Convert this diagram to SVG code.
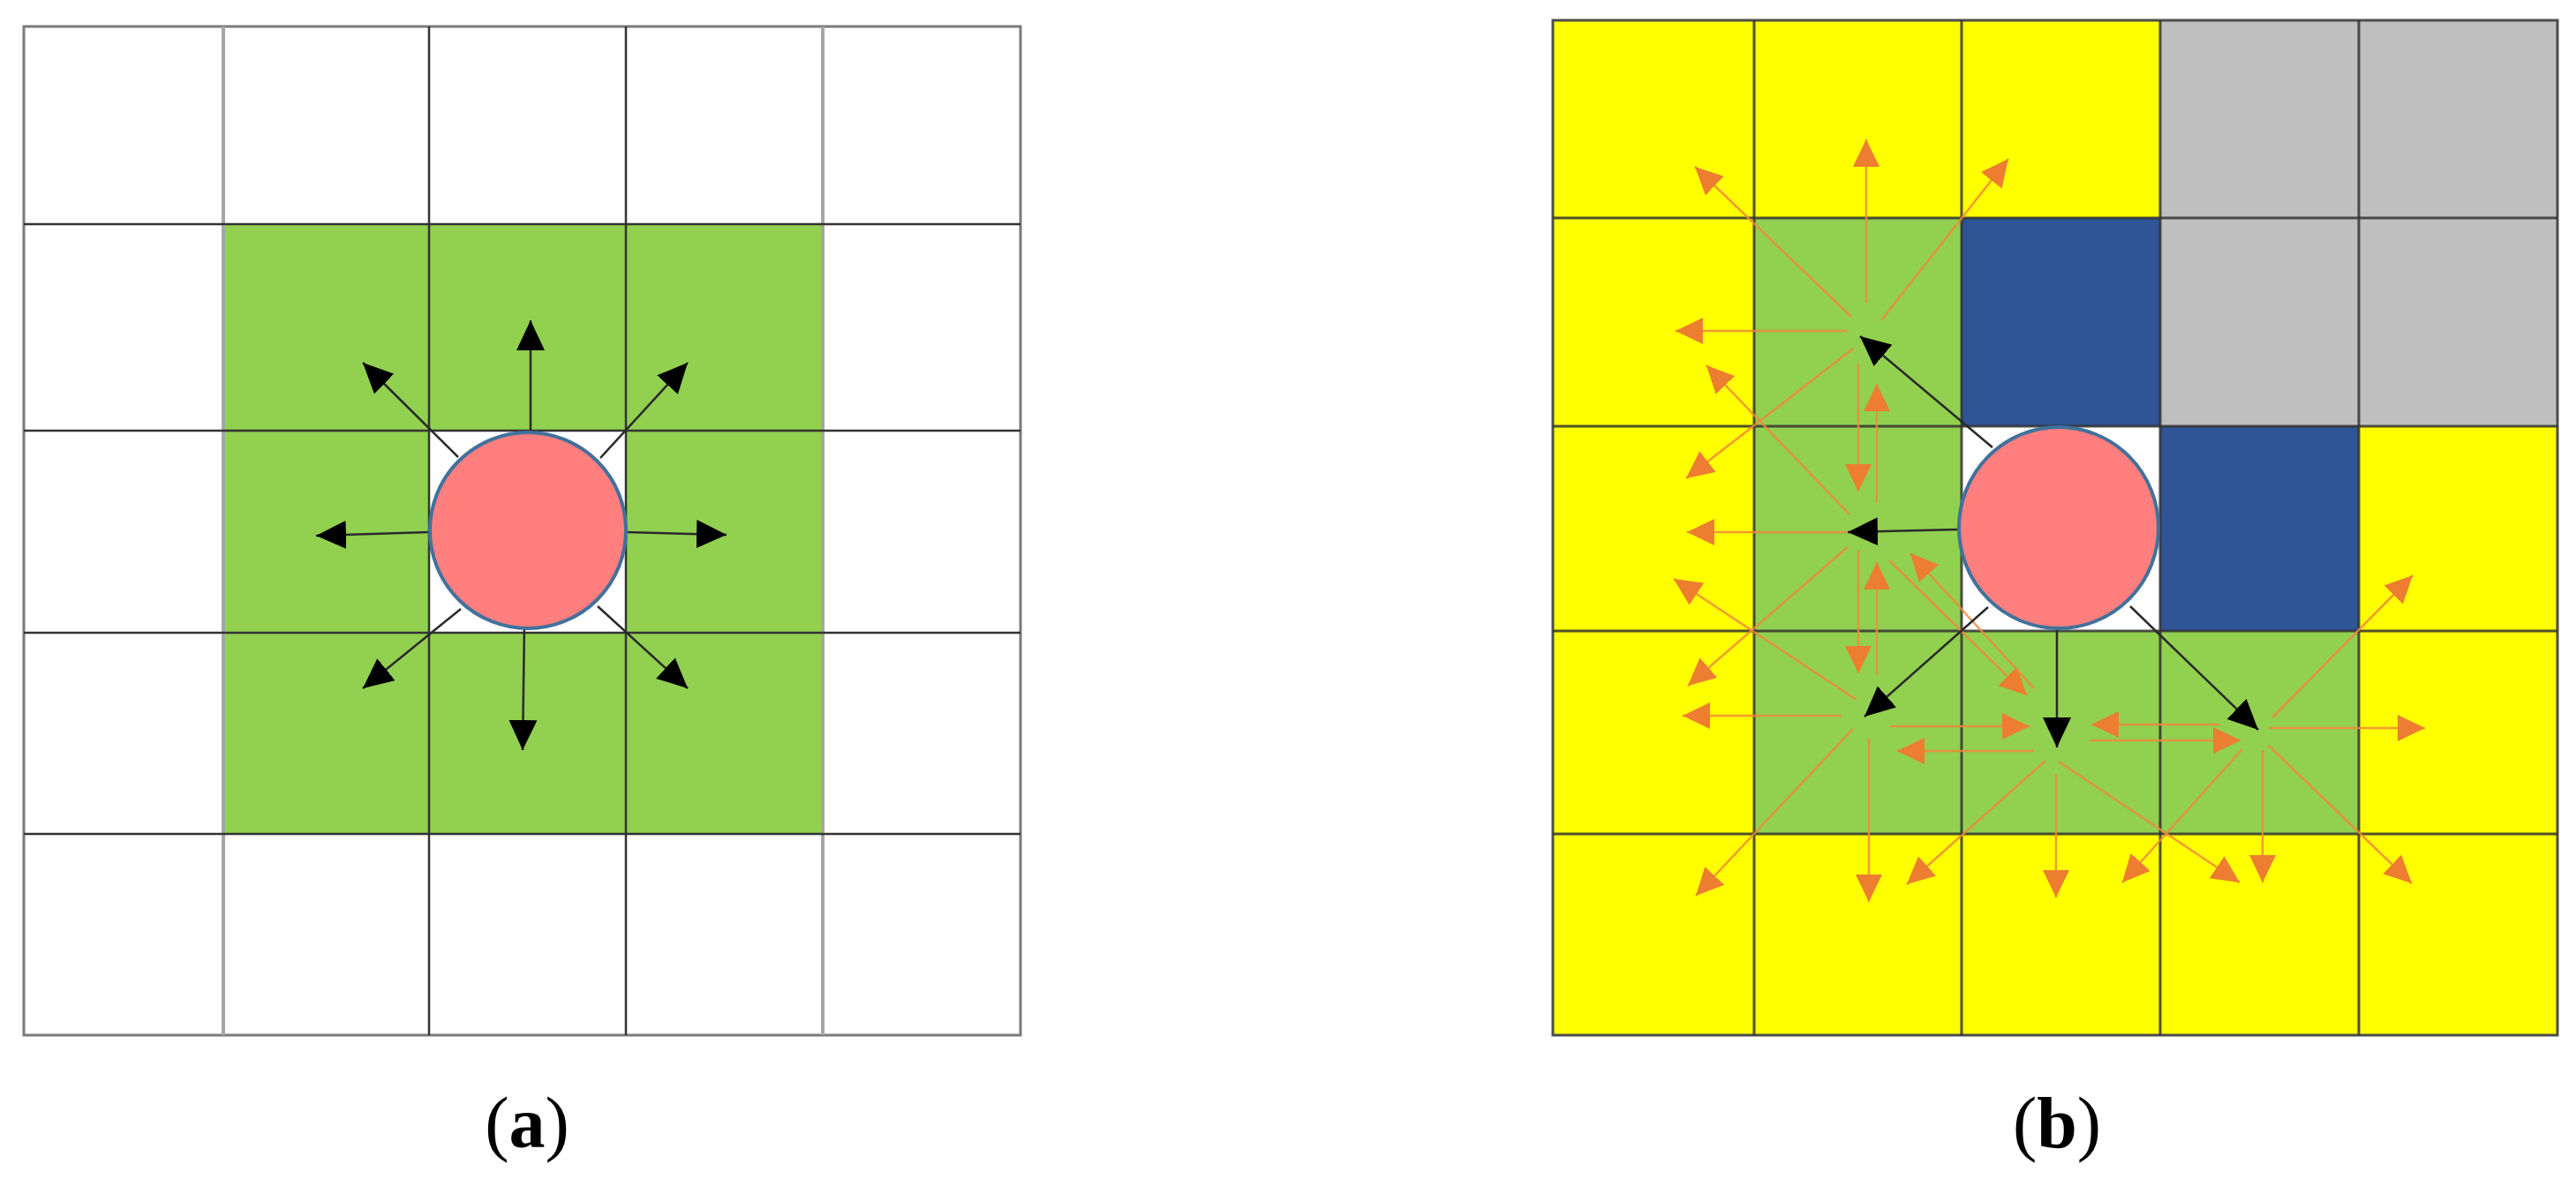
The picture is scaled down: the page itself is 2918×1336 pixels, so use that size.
<svg xmlns="http://www.w3.org/2000/svg" width="2918" height="1336" viewBox="0 0 2918 1336">
<style>
.w{fill:#ffffff}.g{fill:#92D050}.y{fill:#FFFF00}.s{fill:#BFBFBF}.b{fill:#2F5597}
.gl{stroke:#333;stroke-width:2.5;fill:none}
.glg{stroke:#a6a6a6;stroke-width:4;fill:none}
.gr{stroke:#333;stroke-width:3;fill:none;stroke-opacity:0.85}
.blk{stroke:#2a2a2a;stroke-width:2.5;fill:none;marker-end:url(#hb)}
.org{stroke:#EE8A3C;stroke-width:2.5;fill:none;stroke-opacity:0.85;marker-end:url(#ho)}
.ball{fill:#FF7F7F;stroke:#41719C;stroke-width:4}
.lbl{font-family:"Liberation Serif","Times New Roman",serif;font-size:82px;fill:#000}
</style>
<defs>
<marker id="hb" markerUnits="userSpaceOnUse" markerWidth="34" markerHeight="32" refX="34" refY="16" orient="auto" viewBox="0 0 34 32">
<path d="M0,0 L34,16 L0,32 z" fill="#000"/>
</marker>
<marker id="ho" markerUnits="userSpaceOnUse" markerWidth="31" markerHeight="30" refX="31" refY="15" orient="auto" viewBox="0 0 31 30">
<path d="M0,0 L31,15 L0,30 z" fill="#ED7D31"/>
</marker>
</defs>

<g id="panel-a">
<g id="a-cells">
<rect class="w" x="27" y="30" width="1129" height="1143"/>
<rect class="g" x="253" y="254" width="679" height="691"/>
<rect class="w" x="486" y="488" width="223" height="229"/>
</g>
<g id="a-grid">
<rect x="27" y="30" width="1129" height="1143" fill="none" stroke="#7a7a7a" stroke-width="3"/>
<line class="glg" x1="253" y1="30" x2="253" y2="1173"/>
<line class="glg" x1="932" y1="30" x2="932" y2="1173"/>
<line class="gl" x1="486" y1="30" x2="486" y2="1173"/>
<line class="gl" x1="709" y1="30" x2="709" y2="1173"/>
<line class="gl" x1="27" y1="254" x2="1156" y2="254"/>
<line class="gl" x1="27" y1="488" x2="1156" y2="488"/>
<line class="gl" x1="27" y1="717" x2="1156" y2="717"/>
<line class="gl" x1="27" y1="945" x2="1156" y2="945"/>
</g>
<g id="a-connectors">
<line class="blk" x1="601" y1="489" x2="601" y2="363"/>
<line class="blk" x1="519" y1="518" x2="411" y2="411"/>
<line class="blk" x1="680" y1="519" x2="779" y2="411"/>
<line class="blk" x1="486" y1="603" x2="358" y2="607"/>
<line class="blk" x1="710" y1="603" x2="823" y2="606"/>
<line class="blk" x1="522" y1="690" x2="411" y2="780"/>
<line class="blk" x1="594" y1="707" x2="592" y2="850"/>
<line class="blk" x1="677" y1="687" x2="779" y2="780"/>
</g>
<g id="a-agent">
<circle class="ball" cx="598" cy="601" r="111"/>
</g>
<text class="lbl" x="597" y="1300" text-anchor="middle">(<tspan font-weight="bold">a</tspan>)</text>
</g>

<g id="panel-b">
<g id="b-cells">
<rect class="y" x="1759" y="23" width="1138" height="1150"/>
<rect class="s" x="2447" y="23" width="450" height="460"/>
<rect class="g" x="1987" y="247" width="235" height="698"/>
<rect class="g" x="2222" y="715" width="450" height="230"/>
<rect class="b" x="2222" y="247" width="225" height="236"/>
<rect class="b" x="2447" y="483" width="225" height="232"/>
<rect class="w" x="2222" y="483" width="225" height="232"/>
</g>
<g id="b-grid">
<rect x="1759" y="23" width="1138" height="1150" fill="none" stroke="#4d4d4d" stroke-width="3"/>
<line class="gr" x1="1987" y1="23" x2="1987" y2="1173"/>
<line class="gr" x1="2222" y1="23" x2="2222" y2="1173"/>
<line class="gr" x1="2447" y1="23" x2="2447" y2="1173"/>
<line class="gr" x1="2672" y1="23" x2="2672" y2="1173"/>
<line class="gr" x1="1759" y1="247" x2="2897" y2="247"/>
<line class="gr" x1="1759" y1="483" x2="2897" y2="483"/>
<line class="gr" x1="1759" y1="715" x2="2897" y2="715"/>
<line class="gr" x1="1759" y1="945" x2="2897" y2="945"/>
</g>
<g id="b-connectors">
<line class="org" x1="2114" y1="343" x2="2114" y2="158"/>
<line class="org" x1="2097" y1="359" x2="1920" y2="189"/>
<line class="org" x1="2131" y1="363" x2="2275" y2="180"/>
<line class="org" x1="2092" y1="375" x2="1898" y2="375"/>
<line class="org" x1="2099" y1="395" x2="1910" y2="542"/>
<line class="org" x1="2105" y1="412" x2="2105" y2="557"/>
<line class="org" x1="2126" y1="570" x2="2126" y2="435"/>
<line class="org" x1="2092" y1="603" x2="1911" y2="603"/>
<line class="org" x1="2095" y1="583" x2="1933" y2="414"/>
<line class="org" x1="2093" y1="620" x2="1912" y2="777"/>
<line class="org" x1="2105" y1="623" x2="2105" y2="763"/>
<line class="org" x1="2140" y1="635" x2="2296" y2="788"/>
<line class="org" x1="2126" y1="765" x2="2126" y2="637"/>
<line class="org" x1="2086" y1="811" x2="1906" y2="811"/>
<line class="org" x1="2103" y1="793" x2="1896" y2="656"/>
<line class="org" x1="2099" y1="826" x2="1921" y2="1015"/>
<line class="org" x1="2117" y1="837" x2="2117" y2="1022"/>
<line class="org" x1="2141" y1="823" x2="2299" y2="823"/>
<line class="org" x1="2304" y1="780" x2="2164" y2="627"/>
<line class="org" x1="2304" y1="851" x2="2149" y2="851"/>
<line class="org" x1="2329" y1="877" x2="2329" y2="1017"/>
<line class="org" x1="2317" y1="862" x2="2160" y2="1002"/>
<line class="org" x1="2332" y1="863" x2="2537" y2="1000"/>
<line class="org" x1="2367" y1="839" x2="2538" y2="839"/>
<line class="org" x1="2514" y1="821" x2="2369" y2="821"/>
<line class="org" x1="2570" y1="825" x2="2747" y2="825"/>
<line class="org" x1="2574" y1="813" x2="2733" y2="652"/>
<line class="org" x1="2570" y1="845" x2="2732" y2="1001"/>
<line class="org" x1="2563" y1="850" x2="2563" y2="1000"/>
<line class="org" x1="2540" y1="849" x2="2404" y2="1000"/>
<line class="blk" x1="2257" y1="507" x2="2107" y2="381"/>
<line class="blk" x1="2218" y1="600" x2="2093" y2="603"/>
<line class="blk" x1="2252" y1="688" x2="2112" y2="812"/>
<line class="blk" x1="2330" y1="705" x2="2330" y2="847"/>
<line class="blk" x1="2413" y1="687" x2="2558" y2="827"/>
</g>
<g id="b-agent">
<ellipse class="ball" cx="2332" cy="598" rx="113" ry="114"/>
</g>
<text class="lbl" x="2330" y="1300" text-anchor="middle">(<tspan font-weight="bold">b</tspan>)</text>
</g>
</svg>
